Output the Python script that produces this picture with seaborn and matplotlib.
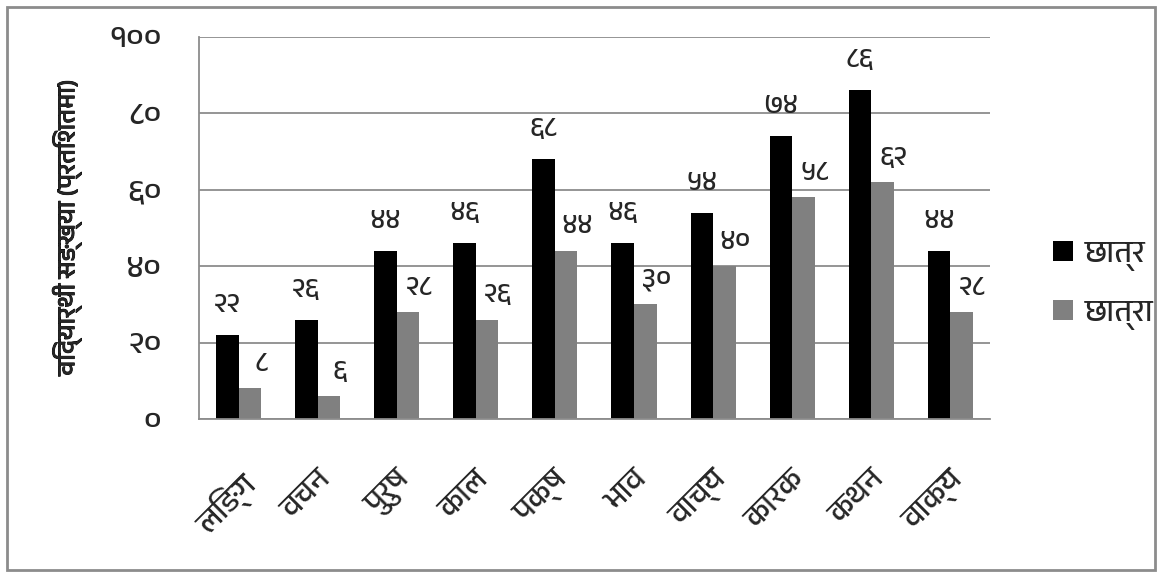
import matplotlib
matplotlib.use("Agg")
import matplotlib.pyplot as plt
import matplotlib.patheffects as pe
from matplotlib import font_manager, ft2font
from matplotlib.patches import Rectangle
import seaborn as sns
import pandas as pd

# Data
categories = ["लिङ्ग", "वचन", "पुरुष", "काल", "पक्ष", "भाव", "वाच्य", "कारक", "कथन", "वाक्य"]
boys = [22, 26, 44, 46, 68, 46, 54, 74, 86, 44]
girls = [8, 6, 28, 26, 44, 30, 40, 58, 62, 28]
series_names = ["छात्र", "छात्रा"]
y_ticks = [0, 20, 40, 60, 80, 100]
y_label = "विद्यार्थी सङ्ख्या (प्रतिशतमा)"

DEV_DIGITS = str.maketrans("0123456789", "०१२३४५६७८९")


def dev(n):
    return str(n).translate(DEV_DIGITS)


def find_devanagari_family():
    found = []
    for f in font_manager.fontManager.ttflist:
        try:
            cmap = ft2font.FT2Font(f.fname).get_charmap()
        except Exception:
            continue
        if ord("क") in cmap:
            found.append(f.name)
    found.sort(key=lambda n: (0 if "Devanagari" in n else 1, n))
    return found


sns.set_style("white")
dev_fams = find_devanagari_family()
families = dev_fams[:1] + ["DejaVu Sans"]
plt.rcParams["font.family"] = families

df = pd.DataFrame({
    "category": categories * 2,
    "value": boys + girls,
    "series": [series_names[0]] * len(categories) + [series_names[1]] * len(categories),
})

fig = plt.figure(figsize=(11.61, 5.79), dpi=100)
ax = fig.add_axes([0.1714, 0.2763, 0.6813, 0.6598])

sns.barplot(data=df, x="category", y="value", hue="series",
            palette=["#000000", "#808080"], width=0.57, saturation=1,
            edgecolor="none", linewidth=0, ax=ax, legend=True)

ax.set_ylim(0, 100)
ax.set_xlim(-0.5, len(categories) - 0.5)
ax.set_yticks(y_ticks)
ax.set_yticklabels([dev(v) for v in y_ticks], fontsize=23)
ax.yaxis.grid(True, color="#8c8c8c", linewidth=1.3)
ax.set_axisbelow(True)

# category separators on the x axis
ax.set_xticks(range(len(categories)))
ax.set_xticklabels(categories, rotation=45, ha="right", rotation_mode="anchor", fontsize=22)
ax.set_xticks([i - 0.5 for i in range(len(categories) + 1)], minor=True)
ax.tick_params(axis="x", which="major", length=0, pad=34)
ax.tick_params(axis="x", which="minor", length=11, color="#8c8c8c", width=1.3)
ax.tick_params(axis="y", length=9, color="#8c8c8c", width=1.3, pad=18)

for s in ["top", "right"]:
    ax.spines[s].set_visible(False)
for s in ["left", "bottom"]:
    ax.spines[s].set_color("#8c8c8c")
    ax.spines[s].set_linewidth(1.3)

ax.set_xlabel("")
ylab = ax.set_ylabel(y_label, fontsize=18, fontweight="bold", labelpad=20)
# slightly heavier strokes for the axis title
ylab.set_path_effects([pe.withStroke(linewidth=0.6, foreground="black")])

# value labels: boys centred above, girls nudged to the right
offsets = [(0, 13), (8, 9)]
for cont, vals, off in zip(ax.containers, [boys, girls], offsets):
    anns = ax.bar_label(cont, labels=[dev(v) for v in vals], padding=0, fontsize=20)
    for a in anns:
        a.xyann = off

handles, labels = ax.get_legend_handles_labels()
ax.legend(handles, labels, loc="center left", bbox_to_anchor=(1.045, 0.35),
          frameon=False, fontsize=22, handlelength=0.65, handleheight=0.65,
          labelspacing=0.95, handletextpad=0.4)

fig.patches.append(Rectangle((7 / 1161, 9 / 579), 1148 / 1161, 563 / 579,
                             transform=fig.transFigure, fill=False,
                             edgecolor="#8c8c8c", linewidth=2))

fig.savefig("out.png", dpi=100)
